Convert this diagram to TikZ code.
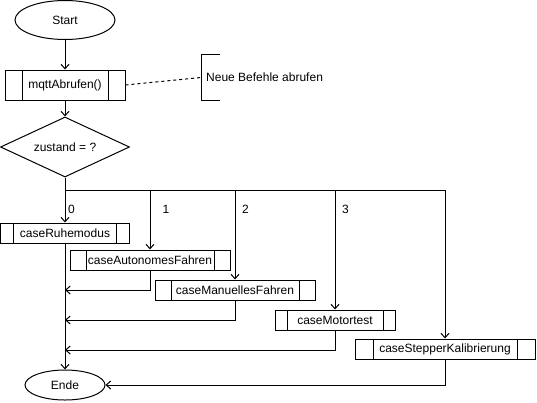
\documentclass[tikz,border=0pt]{standalone}
\usepackage{fontspec}
\setmainfont{Liberation Sans}
\usetikzlibrary{shapes.geometric,arrows.meta}

\tikzset{
  base/.style={draw, line width=1pt, inner sep=0pt, font=\fontsize{12}{14}\selectfont},
  terminal/.style 2 args={base, ellipse, minimum width=#1, minimum height=#2},
  % process box with the two inner side bars
  proc/.style 2 args={base, rectangle, minimum width=#1, minimum height=20pt,
    path picture={
      \draw[line width=1pt] ([xshift=#2]path picture bounding box.north west) -- ([xshift=#2]path picture bounding box.south west);
      \draw[line width=1pt] ([xshift=-#2]path picture bounding box.north east) -- ([xshift=-#2]path picture bounding box.south east);
    }},
  decision/.style={base, diamond, aspect=2.15, minimum width=129pt, minimum height=60pt},
  flow/.style={line width=1pt},
  arr/.style={flow, -{Straight Barb[length=4.5pt,width=8pt]}},
  caselabel/.style={font=\fontsize{12}{14}\selectfont, inner sep=0pt},
}

\begin{document}
\begin{tikzpicture}[x=1pt, y=-1pt]
  \useasboundingbox (0,0) rectangle (537,402);

  % main column
  \node[terminal={100pt}{39pt}] (start) at (65,20) {Start};
  \node[proc={120pt}{17pt}, minimum height=30pt] (mqtt) at (65,85) {mqttAbrufen()};
  \node[decision] (dec) at (65,147) {zustand = ?};

  % annotation bracket
  \node[anchor=west, minimum height=45pt, inner xsep=5pt, inner ysep=0pt,
        font=\fontsize{12}{14}\selectfont] (note) at (201,77.5) {Neue Befehle abrufen};
  \draw[flow] ([xshift=19pt]note.north west) -| (note.south west) -- ++(19,0);

  % case blocks
  \node[proc={129pt}{13pt}] (ruhe)    at (65,233)  {caseRuhemodus};
  \node[proc={160pt}{16pt}] (auto)    at (150,260) {caseAutonomesFahren};
  \node[proc={160pt}{16pt}] (manu)    at (235,290) {caseManuellesFahren};
  \node[proc={120pt}{12pt}] (motor)   at (335,320) {caseMotortest};
  \node[proc={180pt}{18pt}] (stepper) at (445,349) {caseStepperKalibrierung};

  \node[terminal={80pt}{30pt}] (ende) at (65,385) {Ende};

  % branch bus and join points on the trunk
  \coordinate (bus) at (65,190);
  \coordinate (j1) at (65,290);
  \coordinate (j2) at (65,320);
  \coordinate (j3) at (65,350);

  % forward flow
  \draw[arr] (start) -- (mqtt);
  \draw[arr] (mqtt) -- (dec);
  \draw[flow, dash pattern=on 3pt off 3pt] (mqtt.east) -- (note.west);
  \draw[arr] (dec.south) -- (bus) -| (stepper.north);
  \draw[arr] (bus) -- (ruhe.north);
  \draw[arr] (auto.north |- bus) -- (auto.north);
  \draw[arr] (manu.north |- bus) -- (manu.north);
  \draw[arr] (motor.north |- bus) -- (motor.north);

  % case values
  \node[caselabel] (l0) at (71.5,209) {0};
  \node[caselabel] (l1) at (166,209) {1};
  \node[caselabel] (l2) at (245.5,209) {2};
  \node[caselabel] (l3) at (345.5,209) {3};

  % returns
  \draw[arr] (ruhe.south) -- (ende.north);
  \draw[arr] (auto.south) |- (j1);
  \draw[arr] (manu.south) |- (j2);
  \draw[arr] (motor.south) |- (j3);
  \draw[arr] (stepper.south) |- (ende.east);
\end{tikzpicture}
\end{document}
